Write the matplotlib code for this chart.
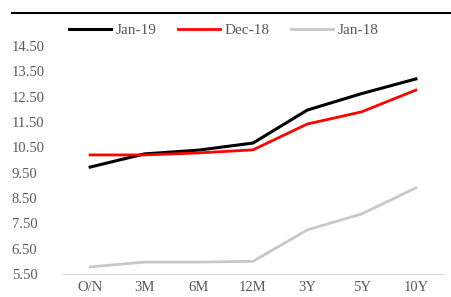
import matplotlib
matplotlib.use("Agg")
import matplotlib.pyplot as plt
from matplotlib.lines import Line2D

categories = ["O/N", "3M", "6M", "12M", "3Y", "5Y", "10Y"]
jan19 = [9.72, 10.24, 10.39, 10.67, 11.97, 12.62, 13.20]
dec18 = [10.20, 10.20, 10.28, 10.40, 11.42, 11.90, 12.76]
jan18 = [5.78, 5.97, 5.97, 6.00, 7.24, 7.87, 8.90]
yticks = [5.5, 6.5, 7.5, 8.5, 9.5, 10.5, 11.5, 12.5, 13.5, 14.5]

plt.rcParams['font.family'] = ['Liberation Serif', 'DejaVu Serif']
fig = plt.figure(figsize=(4.51, 2.97), dpi=100)
ax = fig.add_axes([63/451, 23/297, (443-63)/451, (274-46)/297])
x = list(range(len(categories)))
ax.plot(x, jan19, color='black', lw=2.2, label='Jan-19')
ax.plot(x, dec18, color='#ff0000', lw=2.0, label='Dec-18')
ax.plot(x, jan18, color='#c8c8c8', lw=2.0, label='Jan-18')
ax.set_xlim(-0.5, 6.5)
ax.set_ylim(5.5, 14.5)
ax.set_yticks(yticks)
ax.set_yticklabels([f"{v:.2f}" for v in yticks])
ax.set_xticks(x)
ax.set_xticklabels(categories)
for s in ['top', 'right', 'left']:
    ax.spines[s].set_visible(False)
ax.spines['bottom'].set_color('#d9d9d9')
ax.tick_params(axis='both', length=0, colors='#595959', labelsize=10.5)
ax.tick_params(axis='x', pad=5)
ax.tick_params(axis='y', pad=37)
for lab in ax.get_yticklabels():
    lab.set_horizontalalignment('left')
fig.legend(loc='center', bbox_to_anchor=(224/451, 1-30/297), ncol=3, frameon=False,
           fontsize=11, labelcolor='#595959', handlelength=2.75, columnspacing=1.4, handletextpad=0.3)
fig.add_artist(Line2D([12/451, 450/451], [1-13/297, 1-13/297], color='black', lw=1.5))
fig.savefig("out.png", dpi=100)
